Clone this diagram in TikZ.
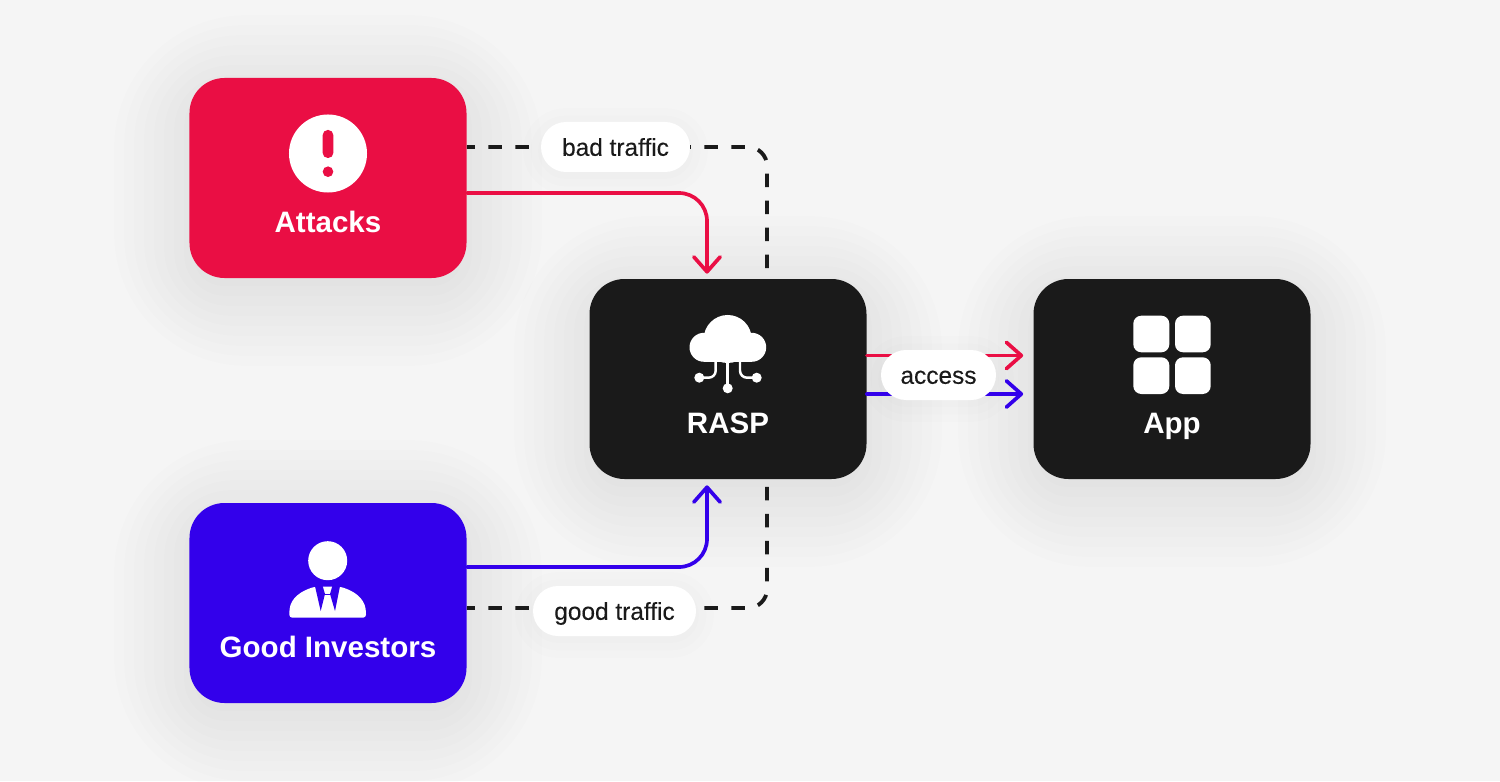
\documentclass[tikz,border=0pt]{standalone}
\usepackage{fontspec}
\setmainfont{Liberation Sans}
\newfontfamily\pillfont[FakeBold=0.2]{Liberation Sans}
\usetikzlibrary{arrows.meta, backgrounds}
\definecolor{paper}{HTML}{F5F5F5}
\definecolor{attackred}{HTML}{EA0E44}
\definecolor{goodblue}{HTML}{3300EB}
\definecolor{boxblack}{HTML}{1A1A1A}
\tikzstyle{box} =
[
	rectangle
	, rounded corners=0.7cm
	, minimum width=5.54cm
	, minimum height=4cm
	, inner sep=0pt
]
\tikzstyle{boxlabel} =
[
	inner sep=0pt
	, text=white
	, text height=12pt
	, text depth=0pt
	, font=\bfseries\fontsize{16.8}{20}\selectfont
]
\tikzstyle{pill} =
[
	rectangle
	, rounded corners=0.5cm
	, minimum height=1cm
	, inner sep=0pt
	, text height=11pt
	, text depth=1pt
	, fill=white
	, text=boxblack
	, font=\pillfont\fontsize{13.9}{16}\selectfont
]
\tikzstyle{arrow} = [line width=2.1pt, rounded corners=0.56cm, -{Straight Barb[length=8.5pt, width=15pt, round]}, line cap=round]
\tikzstyle{traffic} = [line width=2.2pt, boxblack, rounded corners=0.38cm, dash pattern=on 0.27cm off 0.27cm, dash phase=0.11cm]
\tikzstyle{haze} = [black, opacity=0.006]

% grey halo under a box
\newcommand{\boxhaze}[1]{
	\foreach \s in {-0.1,0.1,...,1.7}
		\fill[haze, rounded corners={(0.7+1.3*\s)*1cm}]
			([xshift=-\s cm, yshift=-\s cm-0.25cm]#1.south west) rectangle ([xshift=\s cm, yshift=\s cm-0.25cm]#1.north east);
}
\newcommand{\pillhaze}[1]{
	\foreach \s in {0.05,0.2,0.35}
		\fill[haze, rounded corners={(0.5+\s)*1cm}]
			([xshift=-\s cm, yshift=-\s cm-0.08cm]#1.south west) rectangle ([xshift=\s cm, yshift=\s cm-0.08cm]#1.north east);
}

\begin{document}
\begin{tikzpicture}

\useasboundingbox (-6.56,3.56) rectangle (23.44,-12.06);

\node(attacks)[box, fill=attackred]{};
\node(investors)[box, fill=goodblue, below of=attacks, node distance=8.5cm]{};
\node(rasp)[box, fill=boxblack, right of=attacks, node distance=8cm, yshift=-4.02cm]{};
\node(app)[box, fill=boxblack, right of=rasp, node distance=8.88cm]{};

\node(attackstext)[boxlabel, below of=attacks, node distance=0.87cm]{Attacks};
\node(investorstext)[boxlabel, below of=investors, node distance=0.88cm]{Good Investors};
\node(rasptext)[boxlabel, below of=rasp, node distance=0.87cm]{RASP};
\node(apptext)[boxlabel, below of=app, node distance=0.87cm]{App};

% warning sign
\begin{scope}[shift={(attacks.center)}, x=0.02cm, y=-0.02cm]
\fill[white] (0,-24.5) circle (39);
\fill[attackred, rounded corners=0.1cm] (-5.3,-48) rectangle (5.3,-20);
\fill[attackred] (0,-6.3) circle (5.3);
\end{scope}

% investor with suit and tie
\begin{scope}[shift={(investors.center)}, x=0.02cm, y=-0.02cm]
\fill[white] (-0.3,-42.3) circle (19.5);
\fill[white, rounded corners=0.06cm] (-38.7,14.7) -- (-38.7,8.7) .. controls (-37,-5) and (-27,-12) .. (-13,-16.3)
	-- (12,-16.3) .. controls (26,-12) and (36,-5) .. (38,8.7) -- (38,14.7) -- cycle;
\fill[goodblue] (-13,-16.8) -- (-5.3,-16.8) -- (-3,-9) -- (-7.3,8) -- cycle;
\fill[goodblue] (12,-16.8) -- (4.3,-16.8) -- (2,-9) -- (7,8) -- cycle;
\fill[goodblue] (-4,-9.3) rectangle (3,-8.5);
\end{scope}

% cloud with three branches
\begin{scope}[shift={(rasp.center)}, x=0.02cm, y=-0.02cm]
\fill[white] (-0.3,-40) circle (24);
\fill[white] (-24,-31.7) circle (14.5);
\fill[white] (23.7,-31.7) circle (14.5);
\fill[white] (-24,-36) rectangle (23.7,-17.2);
\draw[white, line width=1.4pt] (-0.3,-18) -- (-0.3,9);
\draw[white, line width=1.4pt, rounded corners=0.14cm] (-12.3,-18) -- (-12.3,-1.3) -- (-28,-1.3);
\draw[white, line width=1.4pt, rounded corners=0.14cm] (12,-18) -- (12,-1.3) -- (28,-1.3);
\fill[white] (-0.3,9.3) circle (5);
\fill[white] (-28.7,-1.3) circle (5);
\fill[white] (28.7,-1.3) circle (5);
\end{scope}

% four app tiles
\begin{scope}[shift={(app.center)}, x=0.02cm, y=-0.02cm]
\foreach \xa/\xb in {-38.7/-2.7, 3/38.7}
	\foreach \ya/\yb in {-63.3/-26.7, -21.7/15}
		\fill[white, rounded corners=0.16cm] (\xa,\ya) rectangle (\xb,\yb);
\end{scope}

\draw[traffic]([yshift=0.62cm]attacks.east) -| ([xshift=0.78cm]rasp.north);
\draw[traffic]([yshift=-0.1cm]investors.east) -| ([xshift=0.78cm]rasp.south);

\draw[arrow, attackred, shorten >=0.1cm]([yshift=-0.3cm]attacks.east) -| ([xshift=-0.42cm]rasp.north);
\draw[arrow, goodblue, shorten >=0.12cm]([yshift=0.72cm]investors.east) -| ([xshift=-0.42cm]rasp.south);
\draw[arrow, attackred, shorten >=0.2cm]([yshift=0.47cm]rasp.east) -- ([yshift=0.47cm]app.west);
\draw[arrow, goodblue, shorten >=0.2cm]([yshift=-0.3cm]rasp.east) -- ([yshift=-0.3cm]app.west);

\node(badpill)[pill, minimum width=2.98cm, right of=attacks, node distance=5.75cm, yshift=0.62cm]{bad traffic};
\node(goodpill)[pill, minimum width=3.26cm, right of=investors, node distance=5.73cm, yshift=-0.16cm]{good traffic};
\node(accesspill)[pill, minimum width=2.3cm, right of=rasp, node distance=4.21cm, yshift=0.08cm]{access};

\begin{scope}[on background layer]
\fill[paper] (-6.56,3.56) rectangle (23.44,-12.06);
\boxhaze{attacks}
\boxhaze{investors}
\boxhaze{rasp}
\boxhaze{app}
\pillhaze{badpill}
\pillhaze{goodpill}
\pillhaze{accesspill}
\end{scope}

\end{tikzpicture}
\end{document}
